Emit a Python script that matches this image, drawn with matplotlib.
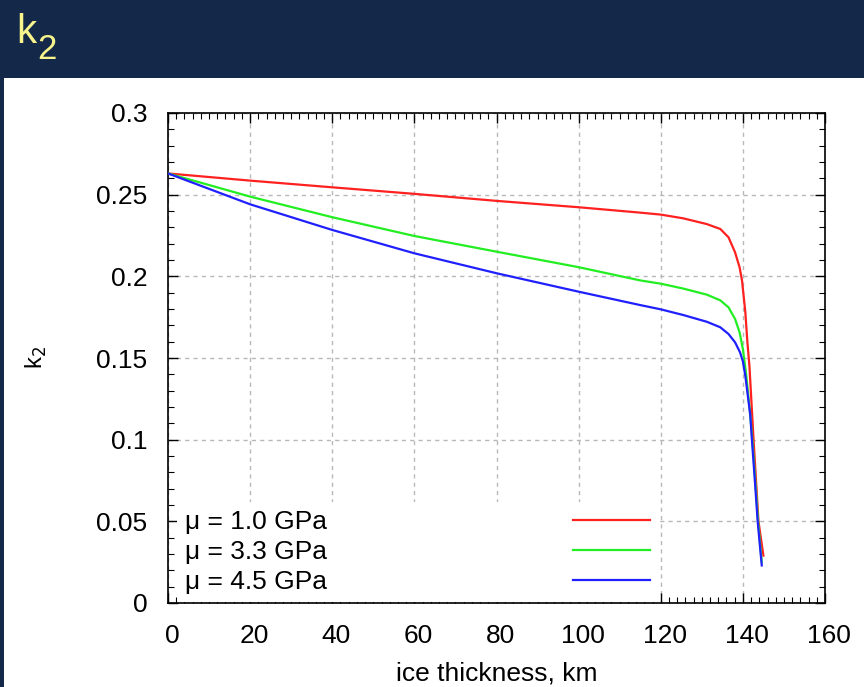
import matplotlib
matplotlib.use("Agg")
import matplotlib.pyplot as plt
from matplotlib.ticker import MultipleLocator, FuncFormatter
import matplotlib.transforms as mtransforms

# ---- data ----
x_red = [0, 20, 40, 60, 80, 100, 115, 120, 125.5, 131.2, 134.5, 136.5, 138.1, 139.2,
         139.8, 140.6, 141.1, 141.6, 142.6, 143.8, 145.0]
k_red = [0.263, 0.2586, 0.2545, 0.2505, 0.2462, 0.2423, 0.2390, 0.2378, 0.2355, 0.2320,
         0.2290, 0.2239, 0.2147, 0.2055, 0.1973, 0.178, 0.1596, 0.145, 0.100, 0.050, 0.029]

x_green = [0, 20, 40, 60, 80, 100, 115, 120, 125.5, 131.2, 134.5, 136.5, 138.1, 139.2,
           140.0, 140.8, 141.8, 142.3, 143.1, 143.7, 144.6]
k_green = [0.263, 0.2488, 0.2362, 0.2247, 0.2151, 0.2056, 0.1975, 0.1955, 0.1925, 0.1888,
           0.1853, 0.1810, 0.1739, 0.1657, 0.1555, 0.140, 0.115, 0.100, 0.072, 0.050, 0.025]

x_blue = [0, 20, 40, 60, 80, 100, 115, 120, 125.5, 131.2, 134.5, 136.5, 138.1, 139.3,
          140.0, 140.6, 141.8, 142.2, 143.0, 143.6, 144.6]
k_blue = [0.263, 0.2441, 0.2284, 0.2141, 0.2019, 0.1906, 0.1824, 0.1798, 0.1763, 0.1722,
          0.1688, 0.1647, 0.1596, 0.1535, 0.1480, 0.139, 0.115, 0.100, 0.072, 0.050, 0.023]

labels = ["\u03bc = 1.0 GPa", "\u03bc = 3.3 GPa", "\u03bc = 4.5 GPa"]
colors = ["#ff2020", "#22ee22", "#2020ff"]

xticks = [0, 20, 40, 60, 80, 100, 120, 140, 160]
yticks = [0, 0.05, 0.1, 0.15, 0.2, 0.25, 0.3]

# ---- figure ----
plt.rcParams['font.family'] = ['Liberation Sans', 'DejaVu Sans']
W, H = 864, 687
fig = plt.figure(figsize=(W / 100, H / 100), dpi=100)
fig.patch.set_facecolor("white")

navy = "#14294a"
# header band and left strip
fig.add_artist(plt.Rectangle((0, 1 - 78 / H), 1, 78 / H, transform=fig.transFigure,
                             facecolor=navy, edgecolor="none", zorder=0))
fig.add_artist(plt.Rectangle((0, 0), 4 / W, 1, transform=fig.transFigure,
                             facecolor=navy, edgecolor="none", zorder=0))
fig.text(16 / W, 1 - 43 / H, "k", color="#f8f48c", fontsize=29,
         family=['Liberation Sans'], va="baseline")
fig.text(37 / W, 1 - 59 / H, "2", color="#f8f48c", fontsize=25,
         family=['Liberation Sans'], va="baseline")

ax = fig.add_axes([168 / W, 1 - 603 / H, (825 - 168) / W, (603 - 113) / H])
for xs, ks, c, lab in zip([x_red, x_green, x_blue], [k_red, k_green, k_blue], colors, labels):
    ax.plot(xs, ks, color=c, lw=1.6, label=lab, solid_joinstyle="round", zorder=3)

ax.set_xlim(0, 160)
ax.set_ylim(0, 0.3)
ax.set_xticks(xticks)
ax.set_yticks(yticks)
ax.xaxis.set_minor_locator(MultipleLocator(2))
ax.yaxis.set_minor_locator(MultipleLocator(0.01))
ax.yaxis.set_major_formatter(FuncFormatter(lambda v, p: "%g" % round(v, 3)))
ax.tick_params(which="both", direction="in", top=True, right=True, colors="black",
               labelsize=19)
ax.tick_params(which="major", length=7, width=1)
ax.tick_params(which="minor", length=4, width=0.8)
ax.tick_params(axis="x", pad=15)
ax.tick_params(axis="y", pad=15)
for lbl in ax.get_xticklabels():
    lbl.set_transform(lbl.get_transform() + mtransforms.ScaledTranslation(4 / 100, 0, fig.dpi_scale_trans))
ax.grid(True, which="major", color="#b8b8b8", linestyle=(0, (3, 3)), lw=1)
for s in ax.spines.values():
    s.set_color("black")
    s.set_linewidth(1.2)

ax.set_xlabel("ice thickness, km", fontsize=19, labelpad=10)
ax.set_ylabel("k$_2$", fontsize=17, labelpad=34)

leg = ax.legend(loc="lower left", markerfirst=False, fontsize=19, frameon=True,
                facecolor="white", edgecolor="none", framealpha=1, fancybox=False,
                handlelength=2.9, handletextpad=9.32, labelspacing=0.22,
                borderpad=0.3, borderaxespad=0.05)
leg.set_zorder(2.5)
leg.set_bbox_to_anchor((8 / (825 - 168), 0.0), transform=ax.transAxes)

fig.savefig("out.png", dpi=100, facecolor=fig.get_facecolor())
